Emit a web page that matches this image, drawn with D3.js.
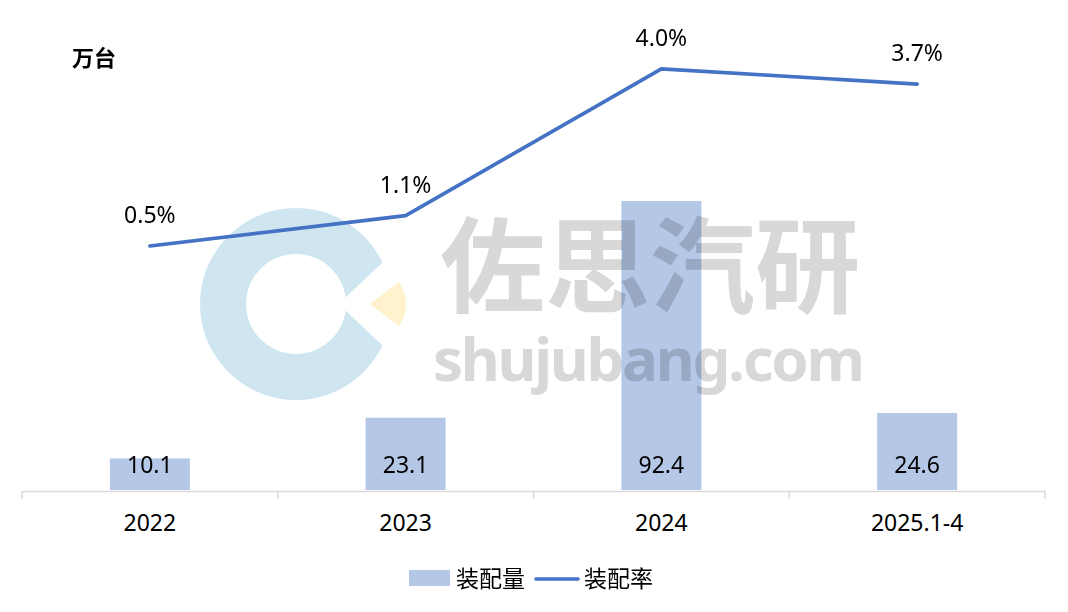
<!DOCTYPE html>
<html><head><meta charset="utf-8">
<script src="https://cdn.jsdelivr.net/npm/d3@7/dist/d3.min.js"></script>
<style>
html,body{margin:0;padding:0;background:#fff;}
svg text{font-family:"Noto Sans","Noto Sans CJK SC",sans-serif;}
</style></head>
<body><svg id="c" width="1068" height="612"></svg>
<script>
const categories = ["2022","2023","2024","2025.1-4"];
const volume = [10.1, 23.1, 92.4, 24.6];        // 装配量 (万台)
const rate = [0.005, 0.011, 0.040, 0.037];        // 装配率
const rateLabels = ["0.5%","1.1%","4.0%","3.7%"];
const seriesNames = ["装配量","装配率"];
const unitLabel = "万台";

const svg = d3.select("#c");
const W = 1068, H = 612;
svg.append("rect").attr("width",W).attr("height",H).attr("fill","#fff");

const x = d3.scaleBand().domain(categories).range([22,1045]).paddingInner(0).paddingOuter(0);
const yV = d3.scaleLinear().domain([0,100]).range([490,177.2]);
const yR = d3.scaleLinear().domain([0,0.045]).range([271.3,43.6]);
const barW = 80;

// bars
svg.append("g").selectAll("rect").data(volume).join("rect")
  .attr("x",(d,i)=>x(categories[i])+x.bandwidth()/2-barW/2)
  .attr("y",d=>yV(d))
  .attr("width",barW)
  .attr("height",d=>yV(0)-yV(d))
  .attr("fill","#b4c7e7");

// watermark (multiply blend)
const wm = svg.append("g").style("mix-blend-mode","multiply");
const cx=296, cy=304, rO=96, rI=50;
const mask = svg.append("defs").append("mask").attr("id","ringmask");
mask.append("rect").attr("width",W).attr("height",H).attr("fill","#fff");
mask.append("path").attr("d",`M338.5,304 L${338.5+140*35/33},${304-140} L${338.5+140*35/33},${304+140} Z`).attr("fill","#000");
const ringG = wm.append("g").attr("mask","url(#ringmask)");
ringG.append("path")
  .attr("d", d3.arc().innerRadius(rI).outerRadius(rO).startAngle(0).endAngle(2*Math.PI)())
  .attr("transform",`translate(${cx},${cy})`)
  .attr("fill","#cfe6f1");
wm.append("path")
  .attr("d", d3.arc().innerRadius(0).outerRadius(36).startAngle(Math.PI/2-0.65).endAngle(Math.PI/2+0.65)())
  .attr("transform","translate(370,304)")
  .attr("fill","#fff2cc");
wm.append("text").attr("x",440).attr("y",305)
  .attr("font-size",104).attr("font-weight","bold").attr("fill","#d8d8d8")
  .attr("textLength",420).attr("lengthAdjust","spacingAndGlyphs")
  .style("font-family","'Noto Sans CJK SC'")
  .text("佐思汽研");
wm.append("text").attr("x",433).attr("y",381)
  .attr("font-size",60).attr("font-weight","bold").attr("fill","#d8d8d8")
  .attr("textLength",432).attr("lengthAdjust","spacing")
  .text("shujubang.com");

// axis
const axis = d3.axisBottom(x).tickSize(0).tickFormat(d=>d);
const ag = svg.append("g").attr("transform","translate(0,491)").call(axis);
ag.select(".domain").attr("stroke","#d9d9d9").attr("stroke-width",1.5);
ag.selectAll("text").attr("font-size",23).attr("fill","#000").attr("dy",null).attr("y",40);
// category boundary ticks
const bounds = categories.map(c=>x(c)).concat([x(categories[categories.length-1])+x.bandwidth()]);
ag.selectAll("line.b").data(bounds).join("line").attr("class","b")
  .attr("x1",d=>d).attr("x2",d=>d).attr("y1",0).attr("y2",8)
  .attr("stroke","#d9d9d9").attr("stroke-width",1.5);

// bar labels
svg.append("g").selectAll("text").data(volume).join("text")
  .attr("x",(d,i)=>x(categories[i])+x.bandwidth()/2)
  .attr("y",473).attr("text-anchor","middle").attr("font-size",23).attr("fill","#000")
  .text(d=>d.toFixed(1));

// line
const line = d3.line().x((d,i)=>x(categories[i])+x.bandwidth()/2).y(d=>yR(d));
svg.append("path").datum(rate).attr("d",line).attr("fill","none")
  .attr("stroke","#4472c4").attr("stroke-width",3.6).attr("stroke-linejoin","round").attr("stroke-linecap","round");
svg.append("g").selectAll("text").data(rate).join("text")
  .attr("x",(d,i)=>x(categories[i])+x.bandwidth()/2)
  .attr("y",d=>yR(d)-23).attr("text-anchor","middle").attr("font-size",23).attr("fill","#000")
  .text((d,i)=>rateLabels[i]);

// unit
svg.append("text").attr("x",72).attr("y",66).attr("font-size",22).attr("font-weight","bold")
  .style("font-family","'Noto Sans CJK SC'").text(unitLabel);

// legend
const lg = svg.append("g");
lg.append("rect").attr("x",409).attr("y",570).attr("width",41).attr("height",16).attr("fill","#b4c7e7");
lg.append("text").attr("x",456).attr("y",587).attr("font-size",23).style("font-family","'Noto Sans CJK SC'").text(seriesNames[0]);
lg.append("line").attr("x1",536).attr("x2",578).attr("y1",579).attr("y2",579)
  .attr("stroke","#4472c4").attr("stroke-width",3.6).attr("stroke-linecap","round");
lg.append("text").attr("x",584).attr("y",587).attr("font-size",23).style("font-family","'Noto Sans CJK SC'").text(seriesNames[1]);
</script></body></html>
